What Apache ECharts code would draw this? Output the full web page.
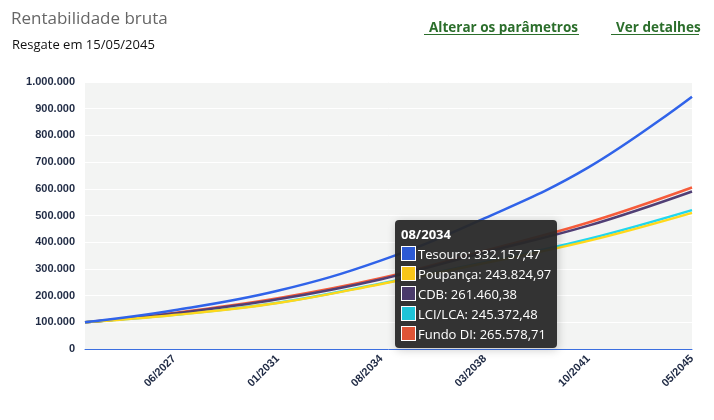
<!DOCTYPE html>
<html><head><meta charset="utf-8">
<script src="https://cdn.jsdelivr.net/npm/echarts@6/dist/echarts.min.js"></script>
<style>
body{margin:0;font-family:"Open Sans",sans-serif;}
#c{width:714px;height:420px;}
</style></head>
<body><div id="c"></div>
<script>
// read points (month index from 05/2024 -> value)
var keyIdx = [0, 37, 80, 123, 166, 209, 252];
var tesouro = [100000, 145000, 218000, 332157.47, 490000, 680000, 945000];
var poupanca = [100000, 127000, 172000, 243824.97, 322000, 405000, 510000];
var cdb = [100000, 133000, 186000, 261460.38, 362000, 462000, 590000];
var lci = [100000, 128000, 173000, 245372.48, 325000, 412000, 520000];
var fundo = [100000, 135000, 190000, 265578.71, 368000, 474000, 605000];
var names = ['Tesouro', 'Poupança', 'CDB', 'LCI/LCA', 'Fundo DI'];
var colors = ['#2c5ad4', '#f7c519', '#4a3a6b', '#1ec4d8', '#e05436'];

var months = [];
for (var i = 0; i <= 252; i++) {
    var m = (4 + i) % 12 + 1, y = 2024 + Math.floor((4 + i) / 12);
    months.push((m < 10 ? '0' + m : m) + '/' + y);
}
function sparse(vals) {
    var arr = months.map(function () { return null; });
    keyIdx.forEach(function (k, j) { arr[k] = vals[j]; });
    return arr;
}
function fmt(v) {
    return v.toLocaleString('pt-BR', {minimumFractionDigits: 2, maximumFractionDigits: 2});
}
var all = [tesouro, poupanca, cdb, lci, fundo];
var series = all.map(function (vals, s) {
    return {
        name: names[s], type: 'line', data: sparse(vals), connectNulls: true,
        smooth: 0.4, showSymbol: false, symbol: 'none',
        lineStyle: {width: 2.5, color: colors[s]}, itemStyle: {color: colors[s]}, z: 5 - s
    };
});
var chart = echarts.init(document.getElementById('c'));
chart.setOption({
    animation: false,
    title: [
        {text: 'Rentabilidade bruta', left: 6, top: 6, textStyle: {fontSize: 17, fontWeight: 'normal', color: '#666', fontFamily: 'Open Sans'}},
        {text: 'Resgate em 15/05/2045', left: 7, top: 34, textStyle: {fontSize: 13, fontWeight: 'normal', color: '#111', fontFamily: 'Open Sans'}},
        {text: 'Alterar os parâmetros', left: 424, top: 16, textStyle: {fontSize: 13.5, fontWeight: 'bold', color: '#2b6e2b', fontFamily: 'Open Sans'}},
        {text: 'Ver detalhes', left: 611, top: 16, textStyle: {fontSize: 13.5, fontWeight: 'bold', color: '#2b6e2b', fontFamily: 'Open Sans'}}
    ],
    graphic: [
        {type: 'rect', shape: {x: 424, y: 34, width: 155, height: 1}, style: {fill: '#2b6e2b'}},
        {type: 'rect', shape: {x: 611, y: 34, width: 88, height: 1}, style: {fill: '#2b6e2b'}}
    ],
    grid: {left: 85, right: 22, top: 82, bottom: 71, show: true, backgroundColor: '#f3f4f3', borderWidth: 0},
    tooltip: {
        trigger: 'axis', alwaysShowContent: true, position: [395, 220],
        backgroundColor: 'rgba(40,40,40,0.95)', borderWidth: 0, padding: [4, 6],
        axisPointer: {type: 'none'},
        textStyle: {color: '#fff', fontSize: 13, fontFamily: 'Open Sans'},
        formatter: function (ps) {
            var h = '<b>' + ps[0].axisValue + '</b>';
            ps.forEach(function (p) {
                h += '<br><span style="display:inline-block;width:13px;height:13px;background:' + colors[p.seriesIndex] +
                    ';border:1px solid #fff;vertical-align:-2px;margin-right:2px"></span>' + p.seriesName + ': ' + fmt(p.value);
            });
            return h;
        }
    },
    xAxis: {
        type: 'category', data: months, boundaryGap: false,
        axisLine: {lineStyle: {color: '#3b6fe0'}}, axisTick: {show: false},
        axisLabel: {
            rotate: 45, fontSize: 11, fontWeight: 'bold', color: '#1f2a44', margin: 8,
            interval: function (i) { return i > 0 && (252 - i) % 43 === 0; }
        }
    },
    yAxis: {
        type: 'value', min: 0, max: 1000000, interval: 100000,
        axisLabel: {fontSize: 11, fontWeight: 'bold', color: '#1f2a44', margin: 10,
            formatter: function (v) { return v.toLocaleString('pt-BR'); }},
        splitLine: {lineStyle: {color: '#ffffff'}}
    },
    series: series
});
chart.dispatchAction({type: 'showTip', seriesIndex: 0, dataIndex: 123});
</script></body></html>
